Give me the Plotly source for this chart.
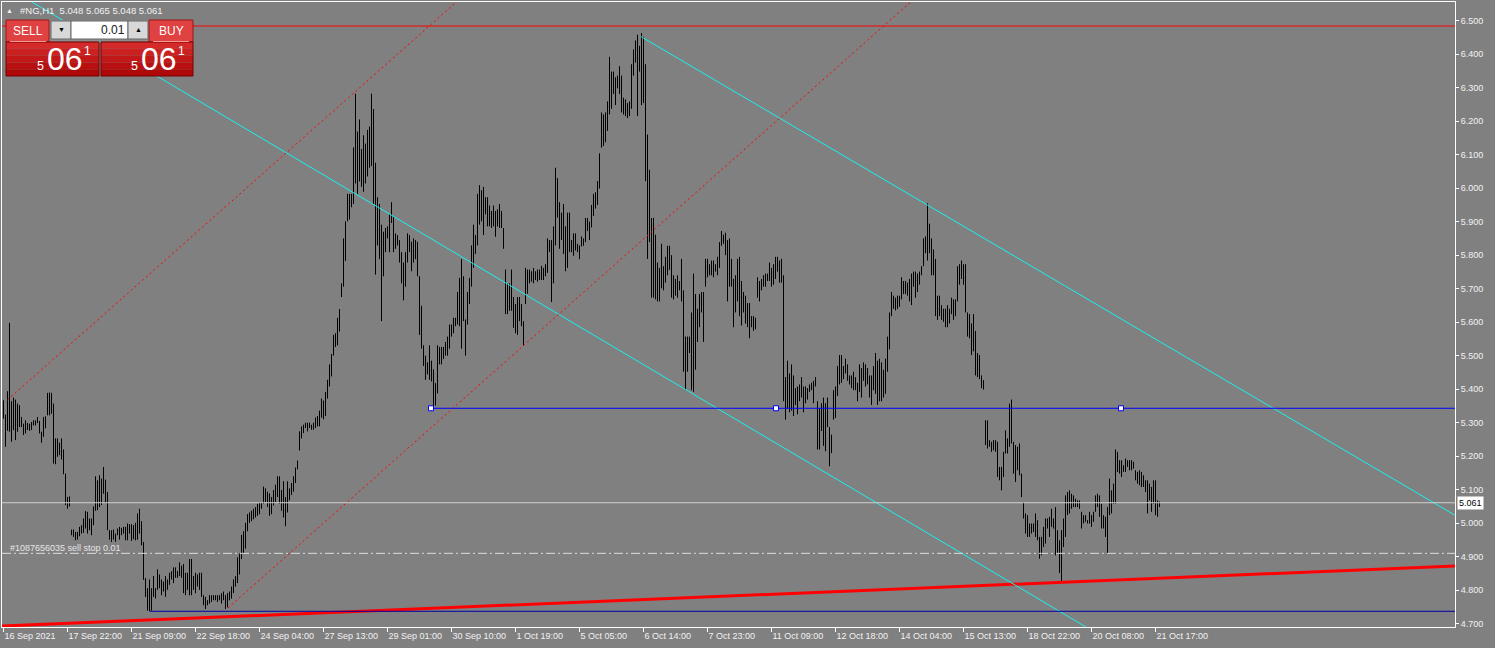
import plotly.graph_objects as go

# ---------------- data ----------------
symbol_header = "#NG,H1  5.048 5.065 5.048 5.061"

tick_idx = list(range(0, 577, 32))
tick_text = ["16 Sep 2021", "17 Sep 22:00", "21 Sep 09:00", "22 Sep 18:00", "24 Sep 04:00",
             "27 Sep 13:00", "29 Sep 01:00", "30 Sep 10:00", "1 Oct 19:00", "5 Oct 05:00",
             "6 Oct 14:00", "7 Oct 23:00", "11 Oct 09:00", "12 Oct 18:00", "14 Oct 04:00",
             "15 Oct 13:00", "18 Oct 22:00", "20 Oct 08:00", "21 Oct 17:00"]

price_ticks = [4.7, 4.8, 4.9, 5.0, 5.1, 5.2, 5.3, 5.4, 5.5, 5.6, 5.7, 5.8, 5.9, 6.0, 6.1, 6.2, 6.3, 6.4, 6.5]

high = [
    5.367, 5.324, 5.394, 5.598, 5.364, 5.375, 5.369, 5.357, 5.352, 5.317,
    5.297, 5.307, 5.299, 5.297, 5.302, 5.307, 5.307, 5.317, 5.305, 5.273,
    5.317, 5.319, 5.389, 5.390, 5.389, 5.357, 5.253, 5.253, 5.240, 5.253,
    5.220, 5.148, 5.078, 5.080, 4.981, 4.981, 4.974, 4.974, 4.989, 4.994,
    5.014, 5.036, 5.034, 5.014, 5.014, 5.050, 5.140, 5.128, 5.143, 5.133,
    5.168, 5.130, 5.093, 4.979, 4.979, 4.981, 4.969, 4.984, 4.989, 4.986,
    4.989, 4.989, 4.999, 4.997, 4.997, 4.994, 5.001, 5.029, 5.043, 5.006,
    4.944, 4.836, 4.806, 4.832, 4.806, 4.842, 4.806, 4.862, 4.847, 4.832,
    4.826, 4.842, 4.832, 4.852, 4.857, 4.868, 4.868, 4.857, 4.883, 4.873,
    4.878, 4.852, 4.852, 4.893, 4.893, 4.842, 4.852, 4.847, 4.852, 4.852,
    4.785, 4.780, 4.770, 4.785, 4.785, 4.785, 4.785, 4.785, 4.785, 4.791,
    4.796, 4.785, 4.791, 4.796, 4.811, 4.832, 4.842, 4.898, 4.909, 4.965,
    4.976, 5.001, 5.027, 5.032, 5.037, 5.043, 5.048, 5.058, 5.063, 5.063,
    5.109, 5.104, 5.094, 5.089, 5.078, 5.099, 5.115, 5.140, 5.140, 5.099,
    5.125, 5.078, 5.125, 5.104, 5.120, 5.140, 5.166, 5.187, 5.274, 5.289,
    5.294, 5.300, 5.300, 5.300, 5.294, 5.300, 5.315, 5.320, 5.336, 5.372,
    5.366, 5.392, 5.428, 5.474, 5.505, 5.562, 5.567, 5.613, 5.639, 5.716,
    5.850, 5.901, 5.983, 5.983, 5.983, 6.122, 6.282, 6.169, 6.205, 6.117,
    6.158, 6.133, 6.174, 6.184, 6.282, 6.236, 6.076, 5.973, 5.953, 5.891,
    5.870, 5.881, 5.886, 5.922, 5.958, 5.917, 5.865, 5.860, 5.845, 5.809,
    5.778, 5.809, 5.865, 5.860, 5.840, 5.850, 5.845, 5.840, 5.737, 5.649,
    5.531, 5.500, 5.480, 5.531, 5.485, 5.459, 5.418, 5.531, 5.526, 5.526,
    5.526, 5.541, 5.557, 5.593, 5.593, 5.613, 5.613, 5.690, 5.732, 5.788,
    5.737, 5.608, 5.690, 5.732, 5.829, 5.891, 5.860, 5.983, 6.009, 5.994,
    6.004, 5.973, 5.973, 5.948, 5.932, 5.948, 5.932, 5.937, 5.953, 5.932,
    5.881, 5.757, 5.716, 5.716, 5.757, 5.675, 5.654, 5.675, 5.675, 5.654,
    5.603, 5.762, 5.757, 5.757, 5.752, 5.762, 5.752, 5.757, 5.757, 5.768,
    5.762, 5.773, 5.850, 5.845, 5.845, 5.886, 6.061, 6.030, 5.958, 5.927,
    5.953, 5.886, 5.927, 5.927, 5.845, 5.865, 5.865, 5.834, 5.829, 5.856,
    5.850, 5.911, 5.911, 5.900, 5.950, 5.983, 5.988, 6.021, 6.104, 6.226,
    6.220, 6.226, 6.259, 6.392, 6.348, 6.348, 6.331, 6.336, 6.364, 6.336,
    6.270, 6.265, 6.254, 6.259, 6.370, 6.414, 6.441, 6.458, 6.425, 6.463,
    6.452, 6.370, 6.160, 6.055, 5.911, 5.911, 5.861, 5.778, 5.762, 5.834,
    5.767, 5.795, 5.828, 5.828, 5.800, 5.740, 5.729, 5.740, 5.723, 5.789,
    5.695, 5.557, 5.557, 5.557, 5.629, 5.745, 5.684, 5.640, 5.684, 5.690,
    5.690, 5.789, 5.789, 5.773, 5.784, 5.784, 5.773, 5.795, 5.839, 5.872,
    5.861, 5.867, 5.845, 5.850, 5.789, 5.729, 5.740, 5.789, 5.795, 5.723,
    5.690, 5.679, 5.657, 5.657, 5.618, 5.618, 5.613, 5.734, 5.723, 5.729,
    5.740, 5.745, 5.745, 5.778, 5.762, 5.773, 5.795, 5.795, 5.784, 5.789,
    5.740, 5.436, 5.485, 5.447, 5.474, 5.441, 5.403, 5.408, 5.414, 5.436,
    5.408, 5.408, 5.403, 5.414, 5.419, 5.425, 5.436, 5.364, 5.342, 5.358,
    5.375, 5.358, 5.375, 5.287, 5.264, 5.397, 5.408, 5.469, 5.502, 5.502,
    5.469, 5.491, 5.474, 5.441, 5.441, 5.452, 5.436, 5.419, 5.474, 5.463,
    5.480, 5.474, 5.463, 5.441, 5.441, 5.469, 5.508, 5.485, 5.491, 5.480,
    5.458, 5.491, 5.557, 5.629, 5.690, 5.679, 5.673, 5.679, 5.679, 5.734,
    5.723, 5.723, 5.718, 5.729, 5.745, 5.751, 5.751, 5.745, 5.751, 5.767,
    5.850, 5.856, 5.955, 5.894, 5.850, 5.817, 5.789, 5.679, 5.679, 5.651,
    5.640, 5.640, 5.651, 5.640, 5.673, 5.668, 5.668, 5.767, 5.773, 5.784,
    5.773, 5.773, 5.629, 5.624, 5.596, 5.624, 5.574, 5.508, 5.502, 5.441,
    5.427, 5.307, 5.307, 5.248, 5.243, 5.248, 5.248, 5.243, 5.168, 5.168,
    5.213, 5.277, 5.253, 5.357, 5.369, 5.243, 5.233, 5.228, 5.238, 5.148,
    5.063, 5.029, 5.024, 4.999, 4.999, 4.999, 5.029, 5.009, 4.959, 4.959,
    4.989, 5.014, 5.014, 5.019, 5.043, 5.014, 5.048, 4.979, 4.949, 4.979,
    5.014, 5.083, 5.093, 5.098, 5.088, 5.083, 5.073, 5.068, 5.068, 5.034,
    5.024, 5.024, 5.009, 5.034, 5.024, 5.034, 5.083, 5.088, 5.083, 5.058,
    5.024, 5.019, 5.048, 5.133, 5.098, 5.118, 5.220, 5.213, 5.188, 5.188,
    5.173, 5.193, 5.188, 5.188, 5.188, 5.183, 5.158, 5.153, 5.158, 5.153,
    5.143, 5.128, 5.128, 5.118, 5.108, 5.128, 5.128, 5.068, 5.065,
]

low = [
    5.312, 5.228, 5.276, 5.273, 5.243, 5.278, 5.248, 5.273, 5.287, 5.287,
    5.263, 5.268, 5.278, 5.276, 5.278, 5.292, 5.292, 5.299, 5.268, 5.240,
    5.258, 5.283, 5.322, 5.322, 5.327, 5.178, 5.176, 5.198, 5.203, 5.190,
    5.146, 5.054, 5.043, 5.050, 4.964, 4.959, 4.949, 4.951, 4.961, 4.969,
    4.971, 4.984, 4.969, 4.979, 4.964, 4.994, 5.037, 5.039, 5.048, 5.054,
    5.088, 5.060, 4.979, 4.951, 4.944, 4.951, 4.944, 4.964, 4.951, 4.964,
    4.969, 4.949, 4.949, 4.969, 4.947, 4.952, 4.949, 4.951, 4.969, 4.934,
    4.831, 4.780, 4.739, 4.737, 4.739, 4.780, 4.775, 4.801, 4.806, 4.785,
    4.796, 4.780, 4.801, 4.816, 4.832, 4.821, 4.837, 4.837, 4.842, 4.837,
    4.791, 4.785, 4.801, 4.785, 4.785, 4.801, 4.791, 4.811, 4.801, 4.780,
    4.755, 4.744, 4.755, 4.760, 4.765, 4.770, 4.770, 4.765, 4.770, 4.760,
    4.770, 4.744, 4.749, 4.770, 4.775, 4.791, 4.811, 4.821, 4.847, 4.893,
    4.909, 4.924, 4.976, 5.001, 5.006, 5.012, 5.017, 5.022, 5.027, 5.043,
    5.058, 5.063, 5.048, 5.022, 5.027, 5.053, 5.063, 5.078, 5.058, 5.037,
    5.017, 4.991, 5.032, 5.068, 5.084, 5.094, 5.120, 5.161, 5.217, 5.253,
    5.269, 5.284, 5.274, 5.284, 5.279, 5.279, 5.284, 5.289, 5.289, 5.315,
    5.310, 5.320, 5.372, 5.408, 5.438, 5.500, 5.526, 5.531, 5.572, 5.675,
    5.706, 5.783, 5.901, 5.906, 5.943, 5.953, 6.014, 5.983, 6.020, 6.004,
    5.989, 6.014, 6.035, 6.061, 6.066, 5.953, 5.742, 5.829, 5.788, 5.603,
    5.737, 5.809, 5.850, 5.809, 5.896, 5.809, 5.819, 5.829, 5.778, 5.716,
    5.665, 5.706, 5.778, 5.809, 5.752, 5.778, 5.788, 5.737, 5.562, 5.521,
    5.469, 5.428, 5.444, 5.428, 5.423, 5.343, 5.351, 5.387, 5.474, 5.474,
    5.490, 5.500, 5.500, 5.521, 5.557, 5.567, 5.588, 5.593, 5.588, 5.521,
    5.603, 5.500, 5.593, 5.654, 5.706, 5.762, 5.804, 5.829, 5.891, 5.901,
    5.860, 5.922, 5.886, 5.886, 5.881, 5.886, 5.855, 5.886, 5.881, 5.881,
    5.819, 5.624, 5.624, 5.634, 5.634, 5.583, 5.567, 5.562, 5.603, 5.588,
    5.531, 5.654, 5.685, 5.716, 5.721, 5.716, 5.726, 5.721, 5.726, 5.726,
    5.726, 5.737, 5.747, 5.809, 5.660, 5.716, 5.829, 5.912, 5.819, 5.845,
    5.804, 5.752, 5.762, 5.809, 5.809, 5.798, 5.814, 5.809, 5.788, 5.826,
    5.828, 5.839, 5.872, 5.845, 5.883, 5.917, 5.939, 5.950, 5.999, 6.121,
    6.126, 6.137, 6.171, 6.220, 6.237, 6.281, 6.248, 6.298, 6.281, 6.226,
    6.220, 6.215, 6.209, 6.215, 6.237, 6.336, 6.375, 6.215, 6.348, 6.248,
    6.254, 6.021, 5.789, 5.839, 5.673, 5.673, 5.668, 5.662, 5.662, 5.701,
    5.695, 5.718, 5.740, 5.756, 5.673, 5.668, 5.679, 5.673, 5.695, 5.662,
    5.452, 5.397, 5.452, 5.508, 5.397, 5.392, 5.458, 5.541, 5.585, 5.629,
    5.541, 5.706, 5.734, 5.740, 5.740, 5.734, 5.751, 5.740, 5.762, 5.828,
    5.834, 5.800, 5.662, 5.706, 5.706, 5.585, 5.629, 5.662, 5.618, 5.590,
    5.629, 5.596, 5.585, 5.552, 5.585, 5.574, 5.579, 5.673, 5.662, 5.695,
    5.706, 5.706, 5.723, 5.723, 5.706, 5.712, 5.729, 5.751, 5.718, 5.718,
    5.364, 5.309, 5.342, 5.331, 5.336, 5.320, 5.353, 5.325, 5.364, 5.375,
    5.331, 5.358, 5.369, 5.392, 5.397, 5.358, 5.408, 5.220, 5.220, 5.275,
    5.231, 5.215, 5.287, 5.170, 5.209, 5.309, 5.314, 5.380, 5.414, 5.419,
    5.430, 5.447, 5.425, 5.414, 5.403, 5.397, 5.397, 5.364, 5.392, 5.375,
    5.425, 5.408, 5.414, 5.375, 5.353, 5.397, 5.386, 5.353, 5.364, 5.364,
    5.375, 5.386, 5.452, 5.519, 5.618, 5.640, 5.635, 5.640, 5.646, 5.668,
    5.684, 5.684, 5.679, 5.662, 5.651, 5.706, 5.673, 5.690, 5.712, 5.740,
    5.767, 5.806, 5.784, 5.806, 5.740, 5.740, 5.618, 5.607, 5.618, 5.607,
    5.601, 5.585, 5.585, 5.596, 5.624, 5.607, 5.618, 5.662, 5.712, 5.729,
    5.712, 5.629, 5.557, 5.552, 5.502, 5.513, 5.441, 5.436, 5.430, 5.403,
    5.399, 5.233, 5.223, 5.228, 5.213, 5.218, 5.213, 5.138, 5.128, 5.098,
    5.138, 5.208, 5.208, 5.228, 5.238, 5.148, 5.123, 5.158, 5.143, 5.078,
    5.014, 4.969, 4.959, 4.959, 4.969, 4.974, 4.959, 4.949, 4.894, 4.904,
    4.929, 4.939, 4.984, 4.959, 4.989, 4.984, 4.904, 4.909, 4.851, 4.824,
    4.929, 4.959, 5.024, 5.029, 5.043, 5.048, 5.048, 5.048, 5.043, 4.984,
    4.999, 5.004, 4.999, 4.999, 4.989, 5.004, 5.034, 5.048, 5.019, 4.984,
    4.984, 4.959, 4.909, 5.024, 5.029, 5.058, 5.058, 5.153, 5.148, 5.138,
    5.153, 5.153, 5.168, 5.158, 5.158, 5.163, 5.128, 5.118, 5.113, 5.108,
    5.108, 5.093, 5.029, 5.068, 5.034, 5.058, 5.024, 5.019, 5.048,
]
assert len(high) == len(low)

# horizontal levels
top_level = 6.484
support_level = 5.343
support_anchor_bars = [213.75, 386.25, 558.75]
bottom_level = 4.737
bottom_level_start = 73.25
bid_price = 5.061
sell_stop_price = 4.910
sell_stop_label = "#1087656035 sell stop 0.01"

# trend lines as (bar, price) endpoints
red_trend = [(-0.75, 4.693), (725.75, 4.872)]
red_dot_upper = [(2.0, 5.368), (232.0, 6.585)]
red_dot_lower = [(112.25, 4.747), (460.0, 6.590)]
cyan_upper = [(318.75, 6.4524), (725.75, 5.0238)]
cyan_lower = [(-0.75, 6.6087), (725.75, 4.0368)]

# ---------------- layout constants ----------------
W, H = 1495, 648
ML, MT, MR, MB = 2, 2, 40, 21
PW, PH = W - ML - MR, H - MT - MB
X_RANGE = [-0.75, -0.75 + PW / 2.0]
Y_RANGE = [4.6901, 6.5557]
BG = "#808080"
FONT = "Liberation Sans, Arial, sans-serif"


def px(x):
    return (x - ML) / PW


def py(y):
    return 1 - (y - MT) / PH


fig = go.Figure()

# OHLC bars drawn as high-low sticks
bx, by = [], []
for i, (h, l) in enumerate(zip(high, low)):
    bx += [i, i, None]
    by += [l, h, None]
fig.add_trace(go.Scatter(x=bx, y=by, mode="lines", line=dict(color="#000000", width=1),
                         hoverinfo="skip", showlegend=False))


def seg(pts, color, width=1, dash=None):
    fig.add_trace(go.Scatter(x=[p[0] for p in pts], y=[p[1] for p in pts], mode="lines",
                             line=dict(color=color, width=width, dash=dash),
                             hoverinfo="skip", showlegend=False))


seg(red_trend, "#FF0000", 3)
seg(cyan_lower, "#19F0F0", 1)
seg(cyan_upper, "#19F0F0", 1)
seg(red_dot_upper, "#FF0000", 1, "2px,3px")
seg(red_dot_lower, "#FF0000", 1, "2px,3px")
seg([(X_RANGE[0], top_level), (X_RANGE[1], top_level)], "#FF0000", 1)
seg([(bottom_level_start, bottom_level), (X_RANGE[1], bottom_level)], "#0000A8", 1)
seg([(X_RANGE[0], bid_price), (X_RANGE[1], bid_price)], "#D0D0D0", 1)
seg([(X_RANGE[0], sell_stop_price), (X_RANGE[1], sell_stop_price)], "#DCDCDC", 1, "9px,3px,2px,3px")
seg([(support_anchor_bars[0], support_level), (X_RANGE[1], support_level)], "#0000FF", 1)
fig.add_trace(go.Scatter(x=support_anchor_bars, y=[support_level] * 3, mode="markers",
                         marker=dict(symbol="square", size=5, color="#FFFFFF",
                                     line=dict(color="#0000FF", width=1)),
                         hoverinfo="skip", showlegend=False))

# ---------------- one-click trading panel ----------------
shapes = []


def rect(x0, y0, x1, y1, fill, line=None):
    shapes.append(dict(type="rect", xref="paper", yref="paper", layer="above",
                       x0=px(x0), x1=px(x1), y0=py(y1), y1=py(y0), fillcolor=fill,
                       line=dict(width=1 if line else 0, color=line or fill)))


rect(49, 20, 149, 41, "#8E8E8E")
rect(6, 20, 49, 42, "#E04141", "#9E1414")
rect(149, 20, 193, 42, "#E04141", "#9E1414")
rect(51, 21, 71, 39, "#D8D8D8", "#666666")
rect(71, 21, 128, 39, "#FFFFFF", "#666666")
rect(128, 21, 148, 39, "#D8D8D8", "#666666")
bands = ["#D42A2A", "#CB2121", "#C21818", "#B81010", "#AE0808"]
for bx0, bx1 in [(6, 99), (101, 193)]:
    for k, col in enumerate(bands):
        rect(bx0, 42 + k * 6.8, bx1, 42 + (k + 1) * 6.8, col)
    shapes.append(dict(type="rect", xref="paper", yref="paper", layer="above",
                       x0=px(bx0), x1=px(bx1), y0=py(76), y1=py(42),
                       line=dict(color="#7A0000", width=1)))
shapes.append(dict(type="line", xref="paper", yref="paper", layer="above",
                   x0=px(10), x1=px(46), y0=py(41.5), y1=py(41.5),
                   line=dict(color="#F29A9A", width=1)))
shapes.append(dict(type="line", xref="paper", yref="paper", layer="above",
                   x0=px(153), x1=px(189), y0=py(41.5), y1=py(41.5),
                   line=dict(color="#F29A9A", width=1)))

annotations = []


def ann(text, x, y, size, color="#FFFFFF", xanchor="left", yref="paper", xref="paper", **kw):
    annotations.append(dict(text=text, x=px(x) if xref == "paper" else x,
                            y=py(y) if yref == "paper" else y, xref=xref, yref=yref,
                            xanchor=xanchor, yanchor="middle", showarrow=False,
                            font=dict(family=FONT, size=size, color=color), **kw))


ann(symbol_header, 18, 11, 9.5, "#F2F2F2")
ann("▲", 4, 10, 7, "#F2F2F2")
ann("SELL", 27.5, 31, 12, "#FFFFFF", "center")
ann("BUY", 171, 31, 12, "#FFFFFF", "center")
ann("▼", 61, 29, 7, "#000000", "center")
ann("▲", 138, 29, 7, "#000000", "center")
ann("0.01", 127, 30, 12, "#202020", "right")
for off in (0, 94):
    ann("5", 35 + off, 66, 12.5, "#FFFFFF")
    ann("06", 45 + off, 59, 32, "#FFFFFF")
    ann("1", 82 + off, 51, 12, "#FFFFFF")

ann(sell_stop_label, 8, 548, 9, "#E6E6E6")
annotations.append(dict(text=f"{bid_price:.3f}", xref="paper", x=1, xanchor="left", xshift=2,
                        yref="y", y=bid_price, yanchor="middle", showarrow=False,
                        bgcolor="#FFFFFF", borderpad=1,
                        font=dict(family=FONT, size=9, color="#000000")))

fig.update_layout(
    width=W, height=H,
    margin=dict(l=ML, r=MR, t=MT, b=MB, pad=0),
    paper_bgcolor=BG, plot_bgcolor=BG,
    showlegend=False,
    shapes=shapes, annotations=annotations,
    font=dict(family=FONT, size=9, color="#F2F2F2"),
    xaxis=dict(range=X_RANGE, showgrid=False, zeroline=False, tickmode="array",
               tickvals=tick_idx, ticktext=tick_text, ticks="outside", ticklen=4,
               tickcolor="#FFFFFF", tickwidth=1, showline=True, linecolor="#FFFFFF",
               linewidth=1, mirror=True, ticklabelposition="outside right",
               tickfont=dict(family=FONT, size=9, color="#F2F2F2"), fixedrange=True),
    yaxis=dict(range=Y_RANGE, side="right", showgrid=False, zeroline=False,
               tickmode="array", tickvals=price_ticks,
               ticktext=[f"{v:.3f}" for v in price_ticks], ticks="outside", ticklen=3,
               tickcolor="#FFFFFF", tickwidth=1, showline=True, linecolor="#FFFFFF",
               linewidth=1, mirror=True,
               tickfont=dict(family=FONT, size=9, color="#F2F2F2"), fixedrange=True),
)

fig.write_html("out.html", config={"displayModeBar": False},
               post_script="document.body.style.margin='0px';document.body.style.overflow='hidden';")
